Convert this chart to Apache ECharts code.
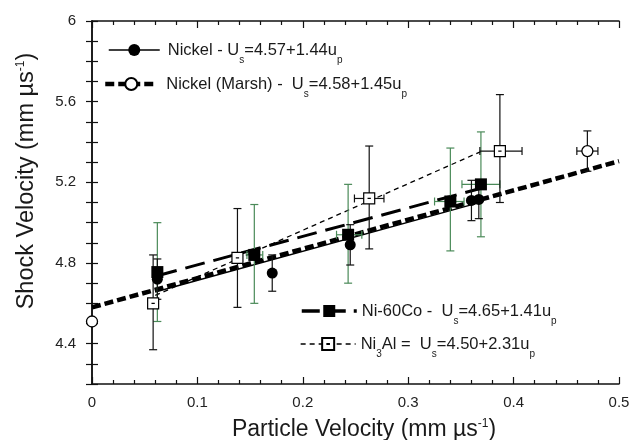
<!DOCTYPE html>
<html>
<head>
<meta charset="utf-8">
<script src="https://cdn.jsdelivr.net/npm/echarts@6/dist/echarts.min.js"></script>
<style>html,body{margin:0;padding:0;background:#fff;}#c{width:632px;height:440px;}</style>
</head>
<body>
<div id="c"></div>
<script>
// ---- data: [x, y, yLow, yHigh, xLow, xHigh] ----
var nickelData = [
  [0.062, 4.72, 4.62, 4.82, 0.062, 0.062],
  [0.171, 4.75, 4.66, 4.84, 0.171, 0.171],
  [0.245, 4.89, 4.79, 4.99, 0.245, 0.245],
  [0.360, 5.11, 5.01, 5.21, 0.360, 0.360],
  [0.367, 5.115, 5.02, 5.21, 0.367, 0.367]
];
var marshData = [
  [0.000, 4.51, 4.51, 4.51, 0.000, 0.000],
  [0.470, 5.355, 5.255, 5.455, 0.460, 0.480]
];
var niCoData = [
  [0.062, 4.755, 4.51, 5.00, 0.062, 0.062],
  [0.154, 4.84, 4.60, 5.09, 0.147, 0.162],
  [0.243, 4.94, 4.70, 5.19, 0.232, 0.256],
  [0.340, 5.105, 4.86, 5.37, 0.325, 0.353],
  [0.369, 5.19, 4.93, 5.45, 0.351, 0.387]
];
var ni3AlData = [
  [0.058, 4.60, 4.37, 4.84, 0.058, 0.058],
  [0.138, 4.825, 4.58, 5.07, 0.138, 0.138],
  [0.263, 5.12, 4.87, 5.38, 0.249, 0.277],
  [0.387, 5.355, 5.10, 5.635, 0.368, 0.408]
];
// fit lines (end points)
var nickelFit = [[0.06, 4.656], [0.37, 5.103]];
var marshFit = [[0.0, 4.58], [0.5, 5.305]];
var niCoFit = [[0.062, 4.737], [0.37, 5.172]];
var ni3AlFit = [[0.06, 4.639], [0.37, 5.355]];

var seriesNames = ['Nickel', 'Nickel (Marsh)', 'Ni-60Co', 'Ni3Al'];
var legendLabels = {
  'Nickel': 'Nickel - U{sub|s}=4.57+1.44u{sub|p}',
  'Nickel (Marsh)': 'Nickel (Marsh) -  U{sub|s}=4.58+1.45u{sub|p}',
  'Ni-60Co': 'Ni-60Co -  U{sub|s}=4.65+1.41u{sub|p}',
  'Ni3Al': 'Ni{sub|3}Al =  U{sub|s}=4.50+2.31u{sub|p}'
};
var xTickLabels = ['0', '0.1', '0.2', '0.3', '0.4', '0.5'];
var yTickLabels = ['4.4', '4.8', '5.2', '5.6', '6'];

var FONT = 'Liberation Sans, Arial, sans-serif';
var GREEN = '#4a8a58';
var openSquare = 'path://M0 0H10V10H0Z M3.5 5H6.5';

function errRender(color) {
  return function (params, api) {
    var x = api.value(0), yl = api.value(2), yh = api.value(3), y = api.value(1);
    var xl = api.value(4), xh = api.value(5);
    var ch = [];
    var st = {stroke: color, lineWidth: 1.2};
    var cap = 4;
    if (yh > yl) {
      var a = api.coord([x, yl]), b = api.coord([x, yh]);
      ch.push({type: 'line', shape: {x1: a[0], y1: a[1], x2: b[0], y2: b[1]}, style: st});
      ch.push({type: 'line', shape: {x1: a[0] - cap, y1: a[1], x2: a[0] + cap, y2: a[1]}, style: st});
      ch.push({type: 'line', shape: {x1: b[0] - cap, y1: b[1], x2: b[0] + cap, y2: b[1]}, style: st});
    }
    if (xh > xl) {
      var c = api.coord([xl, y]), d = api.coord([xh, y]);
      ch.push({type: 'line', shape: {x1: c[0], y1: c[1], x2: d[0], y2: d[1]}, style: st});
      ch.push({type: 'line', shape: {x1: c[0], y1: c[1] - cap, x2: c[0], y2: c[1] + cap}, style: st});
      ch.push({type: 'line', shape: {x1: d[0], y1: d[1] - cap, x2: d[0], y2: d[1] + cap}, style: st});
    }
    return {type: 'group', children: ch};
  };
}

function legendFor(name, left, top, width, gap, lineStyle) {
  return {
    data: [{name: name, lineStyle: lineStyle}], left: left, top: top, padding: 0, itemWidth: width, itemHeight: 15,
    selectedMode: false,
    formatter: function (n) { return (gap ? '{g|}' : '') + legendLabels[n]; },
    textStyle: {
      fontFamily: FONT, fontSize: 16.5, color: '#1a1a1a', lineHeight: 30,
      rich: {
        sub: {fontFamily: FONT, fontSize: 10, color: '#1a1a1a', verticalAlign: 'bottom', lineHeight: 30},
        g: {width: gap || 0}
      }
    }
  };
}

var axisCommonX = {
  type: 'value', min: 0, max: 0.5, interval: 0.1,
  axisLine: {lineStyle: {color: '#111', width: 1.5}},
  axisTick: {inside: true, length: 7, lineStyle: {color: '#111', width: 1.2}},
  minorTick: {show: true, splitNumber: 5, length: 4, lineStyle: {color: '#111', width: 1.2}},
  splitLine: {show: false}, minorSplitLine: {show: false}
};
var axisCommonY = {
  type: 'value', min: 4.2, max: 6, interval: 0.1,
  axisLine: {lineStyle: {color: '#111', width: 1.5}},
  axisTick: {inside: true, length: 6, lineStyle: {color: '#111', width: 1.2}},
  splitLine: {show: false}
};

var option = {
  animation: false,
  backgroundColor: '#fff',
  grid: {left: 92, right: 13, top: 21, bottom: 56, containLabel: false, outerBoundsMode: 'none'},
  legend: [
    legendFor('Nickel', 108, 35, 51, 3, {color: '#000', width: 1.5, type: 'solid'}),
    legendFor('Nickel (Marsh)', 103, 69, 52, 4, {color: '#000', width: 4.5, type: [9, 4]}),
    legendFor('Ni-60Co', 300, 296, 55, 0, {color: '#000', width: 3.5, type: [18, 8]}),
    legendFor('Ni3Al', 300, 329, 55, 0, {color: '#000', width: 1.3, type: [5, 4]})
  ],
  xAxis: [
    Object.assign({}, axisCommonX, {
      position: 'bottom',
      axisLabel: {
        fontFamily: FONT, fontSize: 15, color: '#222', margin: 11,
        formatter: function (v) { return xTickLabels[Math.round(v * 10)]; }
      },
      name: 'Particle Velocity (mm \u00b5s{sup|-1})',
      nameLocation: 'middle', nameGap: 34,
      nameTextStyle: {
        fontFamily: FONT, fontSize: 23, color: '#1a1a1a', padding: [0, 0, 0, 17], lineHeight: 24,
        rich: {sup: {fontFamily: FONT, fontSize: 12, color: '#1a1a1a', verticalAlign: 'top', lineHeight: 24}}
      }
    }),
    Object.assign({}, axisCommonX, {position: 'top', axisLabel: {show: false}})
  ],
  yAxis: [
    Object.assign({}, axisCommonY, {
      position: 'left',
      axisLabel: {
        fontFamily: FONT, fontSize: 15, color: '#222', margin: 16,
        formatter: function (v) {
          var k = Math.round(v * 10);
          if (k % 4 !== 0) return '';
          return yTickLabels[(k - 44) / 4] || '';
        }
      },
      name: 'Shock Velocity (mm \u00b5s{sup|-1})',
      nameLocation: 'middle', nameGap: 53, nameRotate: 90,
      nameTextStyle: {
        fontFamily: FONT, fontSize: 23.5, color: '#1a1a1a', padding: [0, 0, 0, 43], lineHeight: 24,
        rich: {sup: {fontFamily: FONT, fontSize: 12, color: '#1a1a1a', verticalAlign: 'top', lineHeight: 24}}
      }
    }),
    Object.assign({}, axisCommonY, {position: 'right', axisLabel: {show: false}})
  ],
  series: [
    // fit lines (also drive the legend icons)
    {name: 'Nickel', type: 'line', data: nickelFit, showSymbol: false, symbol: 'circle', symbolSize: 11,
     itemStyle: {color: '#000'}, lineStyle: {color: '#000', width: 1.5, type: 'solid'}, z: 2},
    {name: 'Nickel (Marsh)', type: 'line', data: marshFit, showSymbol: false, symbol: 'circle', symbolSize: 11,
     itemStyle: {color: '#fff', borderColor: '#000', borderWidth: 1.3}, lineStyle: {color: '#000', width: 4.5, type: [9, 4]}, z: 3},
    {name: 'Ni-60Co', type: 'line', data: niCoFit, showSymbol: false, symbol: 'rect', symbolSize: 12,
     itemStyle: {color: '#000'}, lineStyle: {color: '#000', width: 3, type: [20, 9]}, z: 2},
    {name: 'Ni3Al', type: 'line', data: ni3AlFit, showSymbol: false, symbol: openSquare, symbolSize: 11,
     itemStyle: {color: '#fff', borderColor: '#000', borderWidth: 1.2}, lineStyle: {color: '#000', width: 1.3, type: [5, 4]}, z: 2},
    // error bars
    {type: 'custom', data: niCoData, renderItem: errRender(GREEN), encode: {x: 0, y: 1}, z: 4, silent: true},
    {type: 'custom', data: nickelData, renderItem: errRender('#111'), encode: {x: 0, y: 1}, z: 4, silent: true},
    {type: 'custom', data: marshData, renderItem: errRender('#111'), encode: {x: 0, y: 1}, z: 4, silent: true},
    {type: 'custom', data: ni3AlData, renderItem: errRender('#111'), encode: {x: 0, y: 1}, z: 4, silent: true},
    // markers
    {type: 'scatter', data: ni3AlData, symbol: openSquare, symbolSize: 11, encode: {x: 0, y: 1},
     itemStyle: {color: '#fff', borderColor: '#000', borderWidth: 1.2, opacity: 1}, z: 5},
    {type: 'scatter', data: niCoData, symbol: 'rect', symbolSize: 12, encode: {x: 0, y: 1},
     itemStyle: {color: '#000', opacity: 1}, z: 6},
    {type: 'scatter', data: nickelData, symbol: 'circle', symbolSize: 11, encode: {x: 0, y: 1},
     itemStyle: {color: '#000', opacity: 1}, z: 6},
    {type: 'scatter', data: marshData, symbol: 'circle', symbolSize: 11, encode: {x: 0, y: 1},
     itemStyle: {color: '#fff', borderColor: '#000', borderWidth: 1.3, opacity: 1}, z: 6}
  ]
};
var chart = echarts.init(document.getElementById('c'), null, {renderer: 'canvas'});
chart.setOption(option);
</script>
</body>
</html>
